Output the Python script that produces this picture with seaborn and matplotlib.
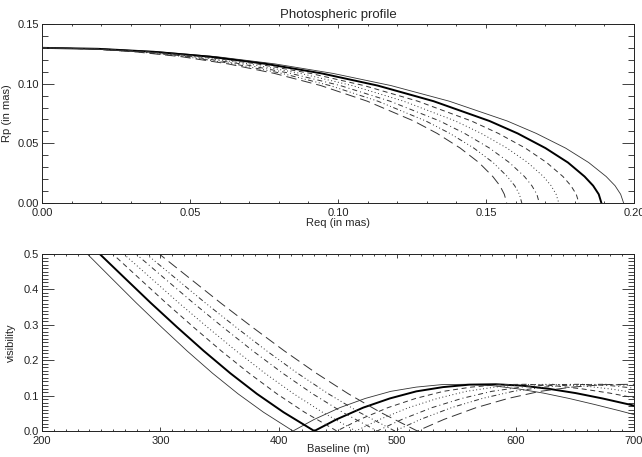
import numpy as np
import pandas as pd
import matplotlib
matplotlib.use("Agg")
import matplotlib.pyplot as plt
from matplotlib.ticker import MultipleLocator, FormatStrFormatter
import seaborn as sns

# ---- top panel: photospheric profiles (Rp vs Req, mas) ----
# polar radius along the profile, shared by all curves (same polar radius 0.13 mas)
rp_profile = [0.1300, 0.1292, 0.1267, 0.1226, 0.1166, 0.1086, 0.0984, 0.0853,
              0.0687, 0.0583, 0.0460, 0.0339, 0.0222, 0.0145, 0.0073, 0.0]

req_thin = [0, 0.0197, 0.0393, 0.0590, 0.0786, 0.0983, 0.1179, 0.1376,
            0.1572, 0.1670, 0.1769, 0.1847, 0.1906, 0.1936, 0.1955, 0.1965]
req_bold = [0, 0.0189, 0.0378, 0.0567, 0.0756, 0.0945, 0.1134, 0.1323,
            0.1512, 0.1607, 0.1701, 0.1777, 0.1833, 0.1862, 0.1881, 0.1890]
req_dash = [0, 0.0181, 0.0363, 0.0544, 0.0726, 0.0907, 0.1088, 0.1270,
            0.1451, 0.1542, 0.1633, 0.1705, 0.1760, 0.1787, 0.1805, 0.1814]
req_dot = [0, 0.0175, 0.0349, 0.0524, 0.0698, 0.0873, 0.1048, 0.1222,
           0.1397, 0.1484, 0.1571, 0.1641, 0.1694, 0.1720, 0.1737, 0.1746]
req_dashdot = [0, 0.0168, 0.0336, 0.0504, 0.0672, 0.0840, 0.1008, 0.1176,
               0.1344, 0.1428, 0.1512, 0.1579, 0.1630, 0.1655, 0.1672, 0.1680]
req_dash3dot = [0, 0.0162, 0.0324, 0.0486, 0.0648, 0.0811, 0.0973, 0.1135,
                0.1297, 0.1378, 0.1459, 0.1524, 0.1572, 0.1597, 0.1613, 0.1621]
req_longdash = [0, 0.0157, 0.0314, 0.0471, 0.0628, 0.0785, 0.0942, 0.1099,
                0.1256, 0.1335, 0.1413, 0.1476, 0.1523, 0.1547, 0.1562, 0.1570]

# ---- bottom panel: visibility vs baseline ----
visibility = [0.506, 0.434, 0.362, 0.293, 0.226, 0.163, 0.105, 0.053, 0.0,
              0.033, 0.066, 0.092, 0.112, 0.124, 0.131, 0.132, 0.128, 0.119,
              0.107, 0.092, 0.075, 0.057, 0.038]

base_thin = [236.5, 258.0, 279.6, 301.1, 322.6, 344.1, 365.6, 387.1, 412.0,
             430.1, 451.6, 473.1, 494.6, 516.1, 537.6, 559.1, 580.6, 602.1,
             623.6, 645.1, 666.6, 688.1, 709.6]
base_bold = [246.9, 269.3, 291.8, 314.2, 336.7, 359.1, 381.5, 404.0, 430.0,
             448.9, 471.3, 493.8, 516.2, 538.7, 561.1, 583.5, 606.0, 628.4,
             650.9, 673.3, 695.8, 718.2]
base_dash = [257.8, 281.2, 304.7, 328.1, 351.5, 375.0, 398.4, 421.8, 449.0,
             468.7, 492.2, 515.6, 539.0, 562.5, 585.9, 609.3, 632.8, 656.2,
             679.6, 703.1]
base_dot = [267.0, 291.3, 315.5, 339.8, 364.1, 388.4, 412.6, 436.9, 465.0,
            485.4, 509.7, 534.0, 558.3, 582.5, 606.8, 631.1, 655.3, 679.6,
            703.9]
base_dashdot = [277.3, 302.5, 327.7, 352.9, 378.2, 403.4, 428.6, 453.8, 483.0,
                504.2, 529.4, 554.6, 579.8, 605.0, 630.3, 655.5, 680.7, 705.9]
base_dash3dot = [285.9, 311.9, 337.9, 363.9, 389.9, 415.9, 441.9, 467.9, 498.0,
                 519.9, 545.9, 571.9, 597.9, 623.9, 649.9, 675.8, 701.8]
base_longdash = [296.8, 323.8, 350.8, 377.8, 404.8, 431.8, 458.8, 485.7, 517.0,
                 539.7, 566.7, 593.7, 620.7, 647.7, 674.7, 701.6]

sns.set_style("ticks")
plt.rcParams["font.family"] = ["Liberation Sans", "DejaVu Sans"]
plt.rcParams["lines.scale_dashes"] = False
plt.rcParams["xtick.direction"] = "in"
plt.rcParams["ytick.direction"] = "in"

# line style of each curve: (linestyle, linewidth, colour)
styles = {
    "thin": ("-", 0.6, "#333333"),
    "bold": ("-", 1.4, "#000000"),
    "dash": ((0, (3.6, 2.6)), 0.7, "#333333"),
    "dot": ((0, (0.7, 1.8)), 0.7, "#333333"),
    "dashdot": ((0, (3.6, 2.2, 0.7, 2.2)), 0.7, "#333333"),
    "dash3dot": ((0, (3.6, 1.8, 0.7, 1.8, 0.7, 1.8, 0.7, 1.8)), 0.7, "#333333"),
    "longdash": ((0, (7.5, 3.6)), 0.7, "#333333"),
}

top_curves = {"thin": req_thin, "bold": req_bold, "dash": req_dash,
              "dot": req_dot, "dashdot": req_dashdot,
              "dash3dot": req_dash3dot, "longdash": req_longdash}
bot_curves = {"thin": base_thin, "bold": base_bold, "dash": base_dash,
              "dot": base_dot, "dashdot": base_dashdot,
              "dash3dot": base_dash3dot, "longdash": base_longdash}

fig = plt.figure(figsize=(6.42, 4.57), dpi=100)
ax1 = fig.add_axes([0.0654, 0.5558, 0.9221, 0.3917])
ax2 = fig.add_axes([0.0654, 0.0569, 0.9221, 0.3873])

for name, req in top_curves.items():
    ls, lw, col = styles[name]
    df = pd.DataFrame({"Req": req, "Rp": rp_profile})
    sns.lineplot(data=df, x="Req", y="Rp", ax=ax1, sort=False, estimator=None,
                 color=col, linestyle=ls, linewidth=lw)

for name, base in bot_curves.items():
    ls, lw, col = styles[name]
    df = pd.DataFrame({"Baseline": base, "V": visibility[:len(base)]})
    sns.lineplot(data=df, x="Baseline", y="V", ax=ax2, sort=False,
                 estimator=None, color=col, linestyle=ls, linewidth=lw)

fs = 8
ax1.set_xlim(0, 0.2)
ax1.set_ylim(0, 0.15)
ax1.xaxis.set_major_locator(MultipleLocator(0.05))
ax1.xaxis.set_minor_locator(MultipleLocator(0.01))
ax1.yaxis.set_major_locator(MultipleLocator(0.05))
ax1.yaxis.set_minor_locator(MultipleLocator(0.01))
ax1.xaxis.set_major_formatter(FormatStrFormatter("%.2f"))
ax1.yaxis.set_major_formatter(FormatStrFormatter("%.2f"))
ax1.set_title("Photospheric profile", fontsize=9.5, pad=4)
ax1.set_xlabel("Req (in mas)", fontsize=fs, labelpad=0)
ax1.set_ylabel("Rp (in mas)", fontsize=fs, labelpad=4)

ax2.set_xlim(200, 700)
ax2.set_ylim(0, 0.5)
ax2.xaxis.set_major_locator(MultipleLocator(100))
ax2.xaxis.set_minor_locator(MultipleLocator(10))
ax2.yaxis.set_major_locator(MultipleLocator(0.1))
ax2.yaxis.set_minor_locator(MultipleLocator(0.01))
ax2.yaxis.set_major_formatter(FormatStrFormatter("%.1f"))
ax2.set_xlabel("Baseline (m)", fontsize=fs, labelpad=-1.5)
ax2.set_ylabel("visibility", fontsize=fs, labelpad=6)

for ax in (ax1, ax2):
    for sp in ax.spines.values():
        sp.set_linewidth(0.7)
        sp.set_color("#222222")
    ax.tick_params(which="both", top=True, right=True, width=0.6,
                   labelsize=fs, colors="#222222")
    ax.tick_params(axis="x", which="major", length=2.7, pad=3.5)
    ax.tick_params(axis="x", which="minor", length=1.4)
    ax.tick_params(axis="y", which="major", length=8.5, pad=2)
    ax.tick_params(axis="y", which="minor", length=4.3)

fig.savefig("out.png", dpi=100)
